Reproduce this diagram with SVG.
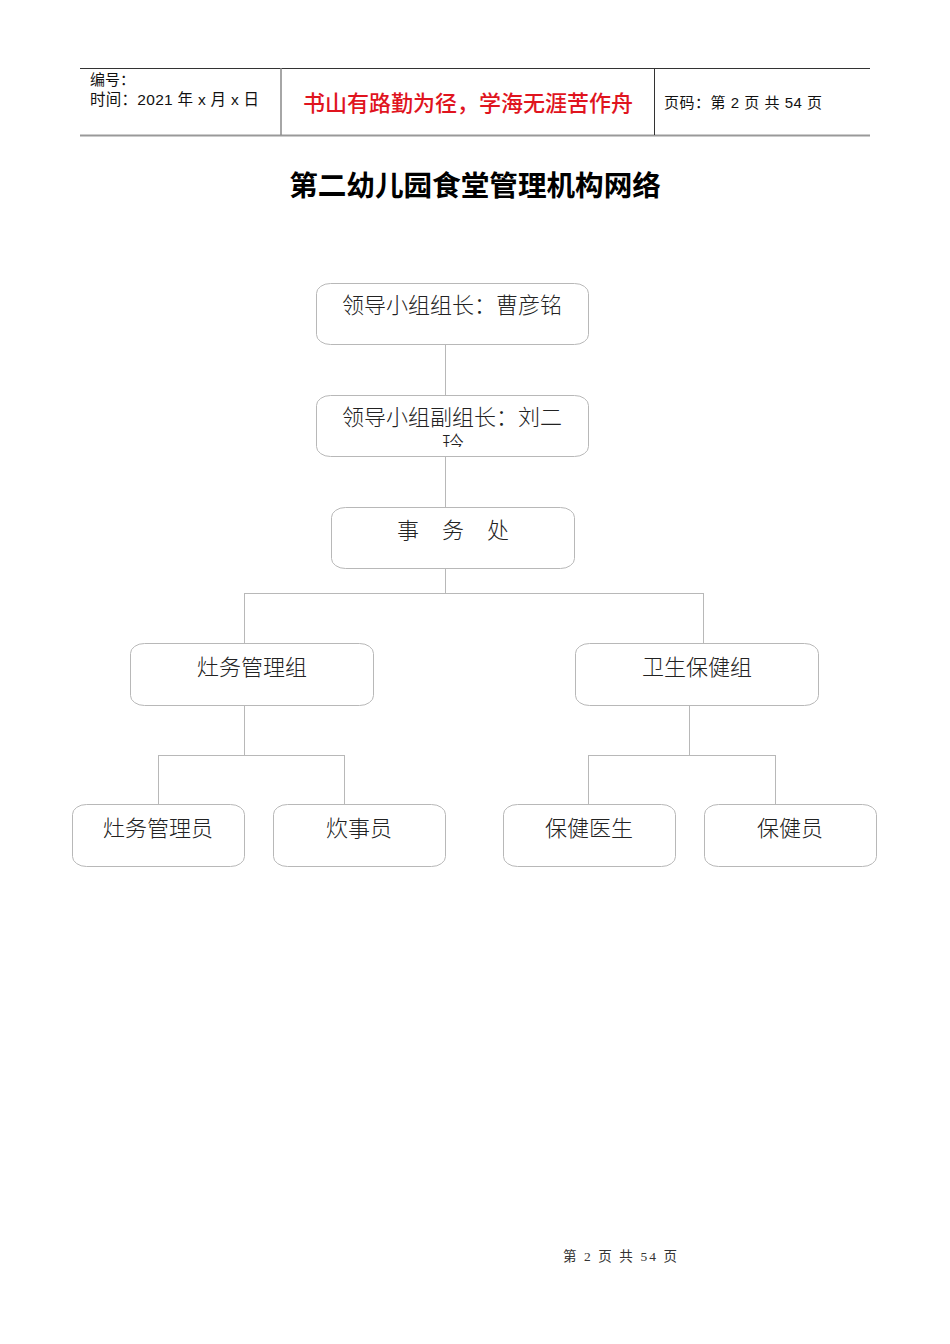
<svg xmlns="http://www.w3.org/2000/svg" width="950" height="1344" viewBox="0 0 950 1344">
<style>
.box{fill:#fff;stroke:#b8b8b8;stroke-width:1}
.lbl{font-family:"Liberation Serif","Noto Sans CJK SC",serif;font-size:22px;fill:#222;font-weight:300}
.conn{stroke:#b8b8b8;stroke-width:1;fill:none}
.hdr{font-family:"Liberation Sans","Noto Sans CJK SC",sans-serif;fill:#111}
</style>
<defs><clipPath id="c2"><rect x="316" y="395" width="272" height="52"/></clipPath></defs>
<rect width="950" height="1344" fill="#fff"/>
<g id="header">
<line x1="80" y1="68.5" x2="870" y2="68.5" stroke="#333" stroke-width="1"/>
<line x1="80" y1="135.5" x2="870" y2="135.5" stroke="#999" stroke-width="2"/>
<line x1="281" y1="68" x2="281" y2="135" stroke="#888" stroke-width="1.5"/>
<line x1="654.5" y1="68" x2="654.5" y2="135" stroke="#333" stroke-width="1"/>
<text class="hdr" x="90" y="85" font-size="15">编号：</text>
<text class="hdr" x="90" y="105" font-size="15.5" textLength="169">时间：2021 年 x 月 x 日</text>
<text x="468" y="111" text-anchor="middle" font-family="Noto Sans CJK SC,sans-serif" font-size="22" font-weight="500" fill="#e0141e">书山有路勤为径，学海无涯苦作舟</text>
<text class="hdr" x="664" y="108" font-size="15" textLength="158">页码：第 2 页  共 54 页</text>
</g>
<text id="title" x="475" y="196" text-anchor="middle" font-family="Noto Sans CJK SC,sans-serif" font-size="28.6" font-weight="bold" fill="#000">第二幼儿园食堂管理机构网络</text>
<g id="connectors">
<path class="conn" d="M445.5 344V395M445.5 456V507M445.5 568V593.5M244.5 593.5H703.5M244.5 593V643M703.5 593V643"/>
<path class="conn" d="M244.5 705V755.5M158.5 755.5H344.5M158.5 755V804M344.5 755V804"/>
<path class="conn" d="M689.5 705V755.5M588.5 755.5H775.5M588.5 755V804M775.5 755V804"/>
</g>
<g id="n1"><rect class="box" x="316.5" y="283.5" width="272" height="61" rx="14" ry="10"/><text class="lbl" x="342" y="313">领导小组组长：曹彦铭</text></g>
<g id="n2"><rect class="box" x="316.5" y="395.5" width="272" height="61" rx="14" ry="10"/><g clip-path="url(#c2)"><text class="lbl" x="342" y="425">领导小组副组长：刘二</text><text class="lbl" x="453" y="452" text-anchor="middle">玲</text></g></g>
<g id="n3"><rect class="box" x="331.5" y="507.5" width="243" height="61" rx="14" ry="10"/><text class="lbl" x="408" y="538" text-anchor="middle">事</text><text class="lbl" x="453" y="538" text-anchor="middle">务</text><text class="lbl" x="498" y="538" text-anchor="middle">处</text></g>
<g id="n4"><rect class="box" x="130.5" y="643.5" width="243" height="62" rx="14" ry="10"/><text class="lbl" x="252" y="675" text-anchor="middle">灶务管理组</text></g>
<g id="n5"><rect class="box" x="575.5" y="643.5" width="243" height="62" rx="14" ry="10"/><text class="lbl" x="697" y="675" text-anchor="middle">卫生保健组</text></g>
<g id="n6"><rect class="box" x="72.5" y="804.5" width="172" height="62" rx="14" ry="10"/><text class="lbl" x="158" y="836" text-anchor="middle">灶务管理员</text></g>
<g id="n7"><rect class="box" x="273.5" y="804.5" width="172" height="62" rx="14" ry="10"/><text class="lbl" x="359" y="836" text-anchor="middle">炊事员</text></g>
<g id="n8"><rect class="box" x="503.5" y="804.5" width="172" height="62" rx="14" ry="10"/><text class="lbl" x="589" y="836" text-anchor="middle">保健医生</text></g>
<g id="n9"><rect class="box" x="704.5" y="804.5" width="172" height="62" rx="14" ry="10"/><text class="lbl" x="790" y="836" text-anchor="middle">保健员</text></g>
<text id="footer" x="563" y="1261" font-family="Liberation Serif,Noto Sans CJK SC,serif" font-size="13.5" fill="#333" textLength="114">第 2 页 共 54 页</text>
</svg>
